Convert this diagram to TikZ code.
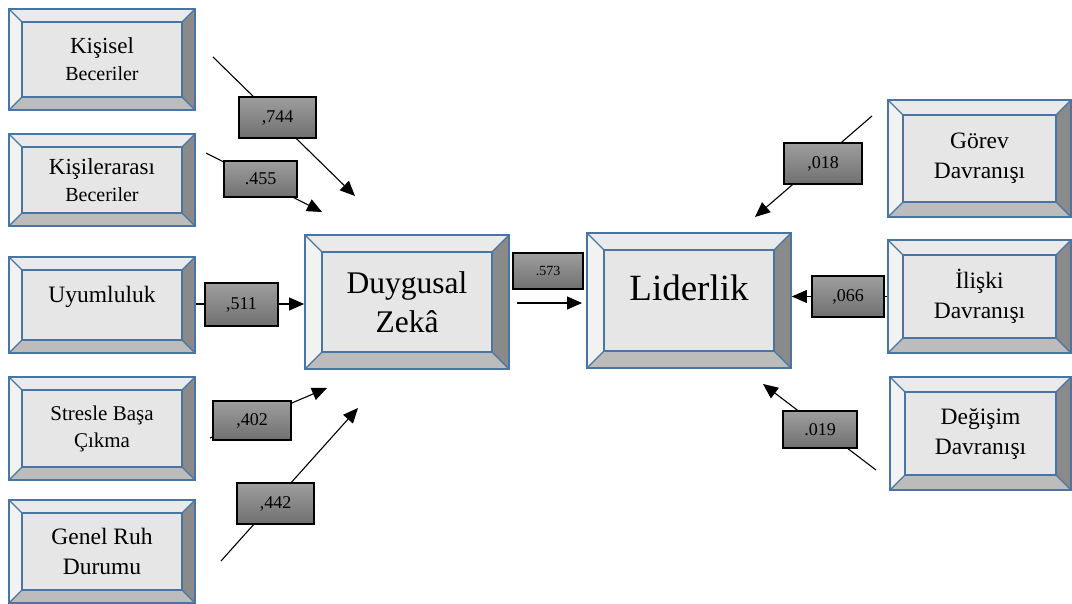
\documentclass[tikz,border=0pt]{standalone}
\usepackage{fontspec}
\setmainfont{Liberation Serif}
\usetikzlibrary{calc,arrows.meta}
\definecolor{edgeblue}{RGB}{72,117,163}
\definecolor{face}{RGB}{230,230,230}
\definecolor{bevtop}{RGB}{234,234,234}
\definecolor{bevleft}{RGB}{242,242,242}
\definecolor{bevright}{RGB}{138,138,138}
\definecolor{bevbot}{RGB}{188,188,188}
\definecolor{labtop}{RGB}{158,158,158}
\definecolor{labbot}{RGB}{112,112,112}
\newcommand\txt[2]{\fontsize{#1}{#2}\selectfont}
\begin{document}
\begin{tikzpicture}[x=1pt,y=-1pt,
  bevelbox/.style={rectangle, draw=edgeblue, line width=1.8pt, fill=face,
    inner sep=0pt, align=center,
    path picture={
      \path (path picture bounding box.north west) coordinate (bvNW)
            (path picture bounding box.north east) coordinate (bvNE)
            (path picture bounding box.south west) coordinate (bvSW)
            (path picture bounding box.south east) coordinate (bvSE);
      \path ($(bvNW)+(#1,#1)$) coordinate (bvINW)
            ($(bvNE)+(-#1,#1)$) coordinate (bvINE)
            ($(bvSW)+(#1,-#1)$) coordinate (bvISW)
            ($(bvSE)+(-#1,-#1)$) coordinate (bvISE);
      \fill[bevtop] (bvNW) -- (bvNE) -- (bvINE) -- (bvINW) -- cycle;
      \fill[bevleft] (bvNW) -- (bvINW) -- (bvISW) -- (bvSW) -- cycle;
      \fill[bevright] (bvNE) -- (bvSE) -- (bvISE) -- (bvINE) -- cycle;
      \fill[bevbot] (bvSW) -- (bvISW) -- (bvISE) -- (bvSE) -- cycle;
      \draw[edgeblue, line width=1.3pt] (bvNW) -- (bvINW) (bvNE) -- (bvINE)
            (bvSW) -- (bvISW) (bvSE) -- (bvISE);
      \draw[edgeblue, line width=1.8pt] (bvINW) rectangle (bvISE);
    }},
  bevelbox/.default=13,
  coef/.style={rectangle, draw=black, line width=1.1pt, top color=labtop,
    bottom color=labbot, inner sep=0pt, font=\txt{18}{18}},
  link/.style={line width=1.1pt, -{Triangle[length=15pt,width=13pt]}}
]
\useasboundingbox (0,0) rectangle (1072,604);

% predictors of emotional intelligence
\node[bevelbox, minimum width=186pt, minimum height=101pt, font=\txt{23}{27}] (kis) at (102,59.5)
  {Kişisel\\\txt{20}{27}Beceriler};
\node[bevelbox, minimum width=186pt, minimum height=92pt, font=\txt{23}{27}] (kisara) at (102,180)
  {Kişilerarası\\\txt{20}{27}Beceriler};
\node[bevelbox, minimum width=186pt, minimum height=96pt, font=\txt{23.5}{30}] (uyum) at (102,305)
  {\raisebox{2pt}[0pt][0pt]{Uyumluluk}};
\node[bevelbox, minimum width=186pt, minimum height=103pt, font=\txt{21}{27}] (stres) at (102,428.5)
  {Stresle Başa\\Çıkma};
\node[bevelbox, minimum width=186pt, minimum height=103pt, font=\txt{23.5}{30}] (ruh) at (102,551.5)
  {Genel Ruh\\Durumu};

% central constructs
\node[bevelbox=17, minimum width=204pt, minimum height=134pt, font=\txt{31.5}{39}] (dz) at (407,302)
  {Duygusal\\Zekâ};
\node[bevelbox=17, minimum width=204pt, minimum height=135pt, font=\txt{37}{44}] (lider) at (689,300.5)
  {\raisebox{0pt}[0pt][0pt]{Liderlik}};

% leadership behaviours
\node[bevelbox=15, minimum width=183pt, minimum height=117pt, font=\txt{23.5}{30}] (gorev) at (979.5,158.5)
  {Görev\\Davranışı};
\node[bevelbox=15, minimum width=183pt, minimum height=113pt, font=\txt{23.5}{30}] (iliski) at (979.5,296.5)
  {İlişki\\Davranışı};
\node[bevelbox=15, minimum width=181pt, minimum height=113pt, font=\txt{23.5}{30}] (degisim) at (980.5,433.5)
  {Değişim\\Davranışı};

% free ends of the paths
\coordinate (s1) at (213,57);   \coordinate (e1) at (355,196);
\coordinate (s2) at (206,153);  \coordinate (e2) at (322,212);
\coordinate (s4) at (210,438);  \coordinate (e4) at (327,388);
\coordinate (s5) at (221,561);  \coordinate (e5) at (358,408);
\coordinate (s6) at (517,303);  \coordinate (e6) at (582,303);
\coordinate (s7) at (872,116);  \coordinate (e7) at (755,217);
\coordinate (s9) at (876,470);  \coordinate (e9) at (763,384);
\coordinate (s3) at ($(uyum.east)+(0,-1)$);
\coordinate (s8) at (iliski.west);

% paths
\draw[link] (s1) -- (e1);
\draw[link] (s2) -- (e2);
\draw[link] (s3) -- (s3 -| dz.west);
\draw[link] (s4) -- (e4);
\draw[link] (s5) -- (e5);
\draw[link] (s6) -- (e6);
\draw[link] (s7) -- (e7);
\draw[link] (s8) -- (s8 -| lider.east);
\draw[link] (s9) -- (e9);

% path coefficients
\node[coef, minimum width=77pt, minimum height=41pt] (c1) at (277.5,117.5) {,744};
\node[coef, minimum width=73pt, minimum height=36pt] (c2) at (260.5,179) {.455};
\node[coef, minimum width=73pt, minimum height=43pt] (c3) at (241.5,304.5) {,511};
\node[coef, minimum width=78pt, minimum height=39pt] (c4) at (252,420.5) {,402};
\node[coef, minimum width=77pt, minimum height=41pt] (c5) at (275.5,503.5) {,442};
\node[coef, minimum width=70pt, minimum height=36pt, font=\txt{14}{14}] (c6) at (548,271) {.573};
\node[coef, minimum width=78pt, minimum height=41pt] (c7) at (823,163.5) {,018};
\node[coef, minimum width=72pt, minimum height=41pt] (c8) at (848,296.5) {,066};
\node[coef, minimum width=74pt, minimum height=37pt] (c9) at (820,429.5) {.019};
\end{tikzpicture}
\end{document}
